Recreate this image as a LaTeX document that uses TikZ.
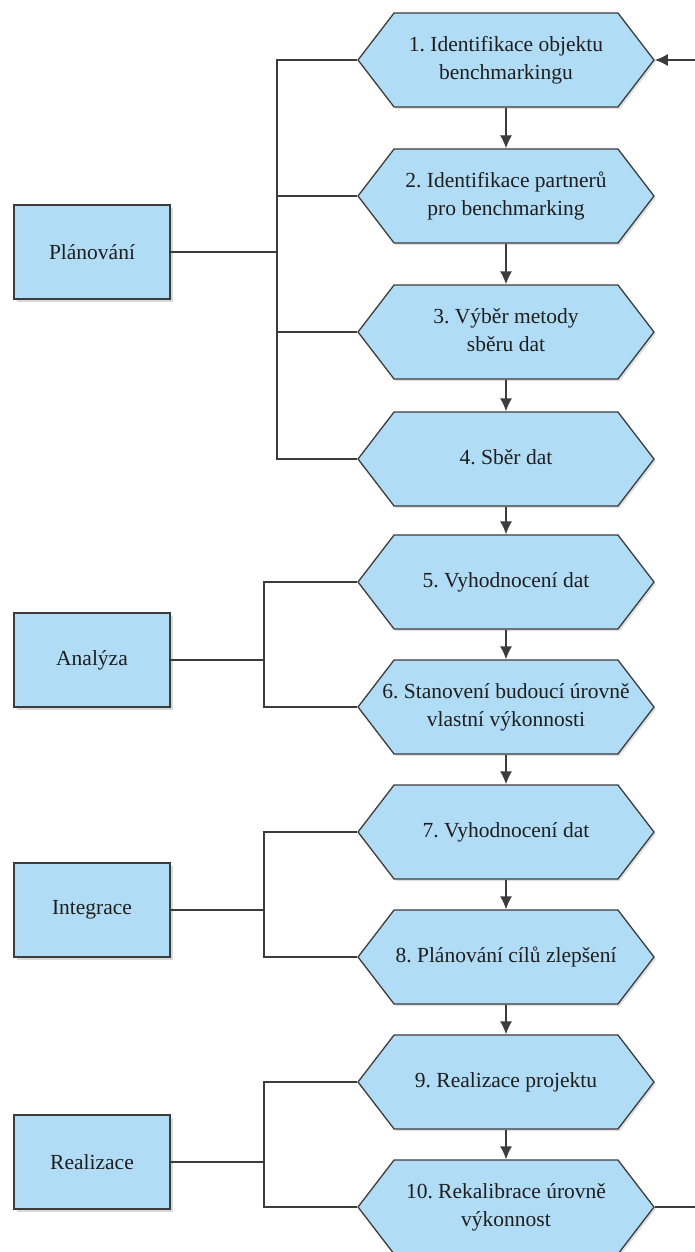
\documentclass[tikz,border=0pt]{standalone}
\usepackage{fontspec}
\setmainfont{Liberation Serif}
\usetikzlibrary{shapes.symbols,shadows,arrows.meta}
\definecolor{hexfill}{HTML}{B0DCF5}
\definecolor{edge}{HTML}{3C3C3C}
\definecolor{txt}{HTML}{1E1E1E}
\newcommand{\hxt}[1]{\makebox[0pt][c]{\begin{tabular}{@{}c@{}}#1\end{tabular}}}
\tikzset{
  x=1pt,y=-1pt,
  hexbox/.style={shape=signal, signal to=east and west, signal pointer angle=105,
    minimum width=296pt, minimum height=94pt, inner sep=0pt, fill=hexfill, draw=edge, line width=1.3pt,
    text=txt, font=\fontsize{21.5}{28}\selectfont\frenchspacing,
    drop shadow={shadow xshift=2pt, shadow yshift=-2pt, fill=black, opacity=0.12}},
  phasebox/.style={rectangle, minimum width=156pt, minimum height=94pt, fill=hexfill, draw=edge, line width=1.3pt,
    text=txt, font=\fontsize{21.5}{28}\selectfont,
    drop shadow={shadow xshift=3pt, shadow yshift=-3pt, fill=black, opacity=0.15}},
  conn/.style={draw=edge, line width=1.3pt},
  arr/.style={conn, -{Latex[length=13pt,width=12pt]}}
}
\begin{document}
\begin{tikzpicture}
\useasboundingbox (0,0) rectangle (695,1252);
\node[hexbox] (h1) at (506,60) {\hxt{1. Identifikace objektu\\benchmarkingu}};
\node[hexbox] (h2) at (506,196) {\hxt{2. Identifikace partnerů\\pro benchmarking}};
\node[hexbox] (h3) at (506,332) {\hxt{3. Výběr metody\\sběru dat}};
\node[hexbox] (h4) at (506,459) {\hxt{4. Sběr dat}};
\node[hexbox] (h5) at (506,582) {\hxt{5. Vyhodnocení dat}};
\node[hexbox] (h6) at (506,707) {\hxt{6. Stanovení budoucí úrovně\\vlastní výkonnosti}};
\node[hexbox] (h7) at (506,832) {\hxt{7. Vyhodnocení dat}};
\node[hexbox] (h8) at (506,957) {\hxt{8. Plánování cílů zlepšení}};
\node[hexbox] (h9) at (506,1082) {\hxt{9. Realizace projektu}};
\node[hexbox] (h10) at (506,1207) {\hxt{10. Rekalibrace úrovně\\výkonnost}};

\node[phasebox] (p1) at (92,252) {Plánování};
\node[phasebox] (p2) at (92,660) {Analýza};
\node[phasebox] (p3) at (92,910) {Integrace};
\node[phasebox] (p4) at (92,1162) {Realizace};

% vertical flow arrows
\foreach \a/\b in {h1/h2,h2/h3,h3/h4,h4/h5,h5/h6,h6/h7,h7/h8,h8/h9,h9/h10}
  \draw[arr] (\a.south) -- (\b.north);

% feedback loop
\coordinate (fb1) at (700,1207);
\coordinate (fb2) at (700,60);
\draw[arr] (h10.east) -- (fb1) -- (fb2) -- (h1.east);

% brackets
\draw[conn] (h1.west) -- (277,60) -- (277,459) -- (h4.west);
\draw[conn] (h2.west) -- (277,196);
\draw[conn] (h3.west) -- (277,332);
\draw[conn] (p1.east) -- (277,252);

\draw[conn] (h5.west) -- (264,582) -- (264,707) -- (h6.west);
\draw[conn] (p2.east) -- (264,660);

\draw[conn] (h7.west) -- (264,832) -- (264,957) -- (h8.west);
\draw[conn] (p3.east) -- (264,910);

\draw[conn] (h9.west) -- (264,1082) -- (264,1207) -- (h10.west);
\draw[conn] (p4.east) -- (264,1162);
\end{tikzpicture}
\end{document}
